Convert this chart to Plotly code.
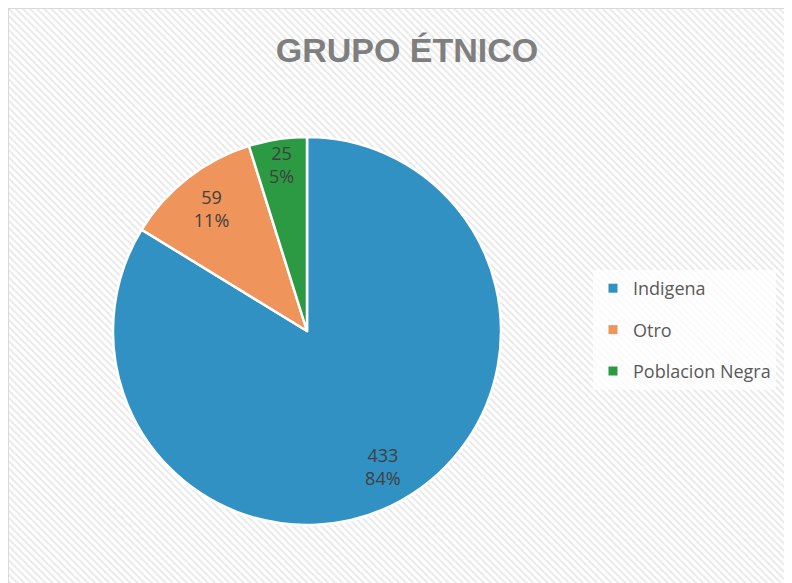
import plotly.graph_objects as go

# data
grupos = ["Indigena", "Otro", "Poblacion Negra"]
cantidades = [433, 59, 25]
colores = ["#3191c2", "#ef945a", "#2b9a42"]

W, H = 792, 583
PIE_DOMAIN = dict(x=[105 / W, 493 / W], y=[66 / H, 454 / H])

fig = go.Figure()

# hatched chart background
fig.add_trace(go.Bar(
    x=[0.5], y=[1], width=[1],
    marker=dict(color="white", line=dict(width=0),
                pattern=dict(shape="\\", fgcolor="#d2d2d2", bgcolor="white",
                             size=5, solidity=0.38)),
    hoverinfo="skip", showlegend=False,
))

# slices
fig.add_trace(go.Pie(
    labels=grupos,
    values=cantidades,
    sort=False,
    direction="clockwise",
    rotation=0,
    marker=dict(colors=colores, line=dict(color="white", width=2.5)),
    textinfo="none",
    domain=PIE_DOMAIN,
    showlegend=False,
    hoverinfo="label+value+percent",
))

# data labels, placed out towards the rim
fig.add_trace(go.Pie(
    labels=grupos,
    values=cantidades,
    sort=False,
    direction="clockwise",
    rotation=0,
    hole=0.6,
    marker=dict(colors=["rgba(0,0,0,0)"] * len(grupos), line=dict(width=0)),
    texttemplate="%{value}<br>%{percent:.0%}",
    textposition="inside",
    insidetextorientation="horizontal",
    textfont=dict(family="Open Sans", size=18, color="#404040"),
    domain=PIE_DOMAIN,
    showlegend=False,
    hoverinfo="skip",
))

# legend entries
for g, c in zip(grupos, colores):
    fig.add_trace(go.Scatter(
        x=[None], y=[None], mode="markers", name=g, legendgroup=g,
        marker=dict(symbol="square", size=9, color=c),
    ))

fig.add_shape(type="rect", xref="paper", yref="paper",
              x0=0, x1=1, y0=0, y1=1,
              line=dict(color="#d9d9d9", width=2), layer="above")

fig.update_layout(
    width=W, height=H,
    margin=dict(l=0, r=0, t=0, b=0),
    paper_bgcolor="white",
    plot_bgcolor="white",
    title=dict(text="<b>GRUPO ÉTNICO</b>", x=399 / W, xanchor="center",
               y=1 - 42 / H, yanchor="middle",
               font=dict(family="Liberation Sans", size=34, color="#7f7f7f")),
    xaxis=dict(domain=[0, 1], range=[0, 1], visible=False, fixedrange=True),
    yaxis=dict(domain=[0, 1], range=[0, 1], visible=False, fixedrange=True),
    bargap=0,
    uniformtext=dict(minsize=18, mode="show"),
    legend=dict(x=585 / W, y=1 - 262 / H, xanchor="left", yanchor="top",
                bgcolor="rgba(255,255,255,0.75)", tracegroupgap=15,
                font=dict(family="Open Sans", size=18, color="#595959"),
                itemwidth=30),
    showlegend=True,
)

fig.write_html("out.html")
